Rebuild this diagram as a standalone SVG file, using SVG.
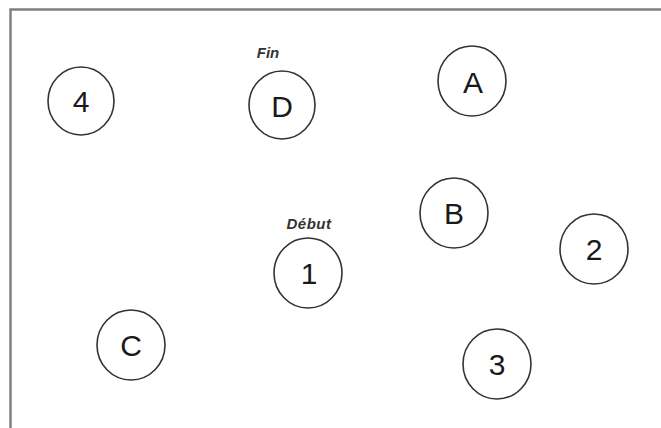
<svg xmlns="http://www.w3.org/2000/svg" width="661" height="428" viewBox="0 0 661 428">
<style>
.n ellipse{fill:#fff;stroke:#333;stroke-width:1.6}
.n text{font-family:"Liberation Sans",Arial,sans-serif;font-size:30px;fill:#1a1a1a;text-anchor:middle;dominant-baseline:central}
.lbl{font-family:"Liberation Sans",Arial,sans-serif;font-size:15px;font-weight:bold;font-style:italic;fill:#333;text-anchor:middle}
</style>
<rect width="661" height="428" fill="#fff"/>
<path d="M10.5 428 V9.5 H661" fill="none" stroke="#808080" stroke-width="2.5"/>
<g id="connectors"></g>
<g id="n4" class="n"><ellipse cx="81" cy="101" rx="33" ry="34"/><text x="81" y="101">4</text></g>
<g id="nD" class="n"><ellipse cx="282" cy="105" rx="33" ry="34"/><text x="282" y="106">D</text></g>
<text class="lbl" x="268" y="58">Fin</text>
<g id="nA" class="n"><ellipse cx="472" cy="81" rx="34" ry="35"/><text x="473" y="82">A</text></g>
<g id="nB" class="n"><ellipse cx="454" cy="213" rx="34" ry="35"/><text x="454" y="213">B</text></g>
<text class="lbl" x="309" y="229" letter-spacing="0.5">Début</text>
<g id="n1" class="n"><ellipse cx="308" cy="273" rx="34" ry="35"/><text x="309" y="273">1</text></g>
<g id="n2" class="n"><ellipse cx="594" cy="249" rx="34" ry="35"/><text x="594" y="249">2</text></g>
<g id="nC" class="n"><ellipse cx="131" cy="345" rx="34" ry="35"/><text x="131" y="345">C</text></g>
<g id="n3" class="n"><ellipse cx="497" cy="364" rx="34" ry="35"/><text x="497" y="364">3</text></g>
</svg>
